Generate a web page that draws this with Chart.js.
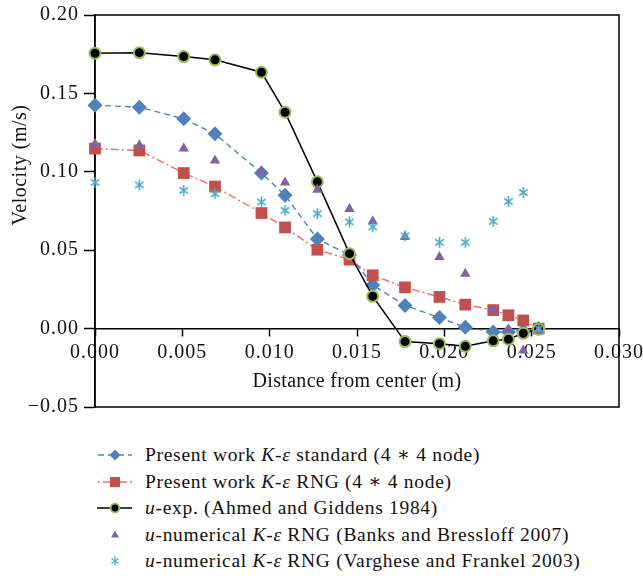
<!DOCTYPE html>
<html>
<head>
<meta charset="utf-8">
<script src="https://cdn.jsdelivr.net/npm/chart.js@4.4.1/dist/chart.umd.min.js"></script>
<style>
  html, body { margin: 0; padding: 0; background: #fff; }
  #wrap { position: relative; width: 643px; height: 576px; overflow: hidden; }
  #c { position: absolute; left: 0; top: 0; }
  .row { position: absolute; left: 0; height: 26px; width: 643px; font-family: "Liberation Serif", "DejaVu Serif", serif; font-size: 19.5px; letter-spacing: 0.7px; color: #111; white-space: nowrap; }
  .row svg { position: absolute; left: 95px; top: 0; }
  .row span { position: absolute; left: 145px; top: 0; line-height: 26px; }
</style>
</head>
<body>
<div id="wrap">
  <canvas id="c" width="643" height="430"></canvas>
  <div id="legend"></div>
</div>
<script>
// ---- data ----
const distance = [0, 0.00254, 0.00508, 0.00687, 0.00953, 0.01088, 0.01273, 0.01457, 0.0159, 0.01775, 0.01972, 0.0212, 0.0228, 0.02367, 0.02452, 0.0254];
const kepsStandard = [0.1425, 0.1412, 0.1338, 0.1242, 0.0992, 0.0850, 0.0571, 0.0470, 0.0278, 0.0148, 0.0070, 0.0008, -0.0021, -0.0022, -0.0015, 0.0];
const kepsRNG = [0.1148, 0.1136, 0.0992, 0.0906, 0.0737, 0.0645, 0.0503, 0.0440, 0.0340, 0.0263, 0.0202, 0.0153, 0.0118, 0.0085, 0.0052, 0.0];
const uExpAhmed = [0.1756, 0.1760, 0.1735, 0.1714, 0.1635, 0.1380, 0.0936, 0.0478, 0.0206, -0.0083, -0.0096, -0.0113, -0.0078, -0.0068, -0.0030, -0.0004];
const uNumBanks = [0.1178, 0.1170, 0.1148, 0.1072, 0.1002, 0.0932, 0.0885, 0.0762, 0.0684, 0.0584, 0.0457, 0.0350, 0.0118, -0.0006, -0.0140, -0.0010];
const uNumVarghese = [0.0932, 0.0917, 0.0881, 0.0860, 0.0807, 0.0754, 0.0733, 0.0680, 0.0648, 0.0592, 0.0550, 0.0550, 0.0684, 0.0811, 0.0868, 0.0];
const seriesLabels = [
  'Present work <i>K</i>-<i>ε</i> standard (4 ∗ 4 node)',
  'Present work <i>K</i>-<i>ε</i> RNG (4 ∗ 4 node)',
  '<i>u</i>-exp. (Ahmed and Giddens 1984)',
  '<i>u</i>-numerical <i>K</i>-<i>ε</i> RNG (Banks and Bressloff 2007)',
  '<i>u</i>-numerical <i>K</i>-<i>ε</i> RNG (Varghese and Frankel 2003)'
];
const xTickValues = [0, 0.005, 0.010, 0.015, 0.020, 0.025, 0.030];
const yTickValues = [-0.05, 0.00, 0.05, 0.10, 0.15, 0.20];
const xTitle = 'Distance from center (m)';
const yTitle = 'Velocity (m/s)';

const FONT = '"Liberation Serif", "DejaVu Serif", serif';
const C = {
  blue: '#4F81BD', blueLine: '#4F81BD',
  red: '#C0504D', redLine: '#F46A6A',
  olive: '#9BBB59', purple: '#8064A2', cyan: '#4BACC6'
};

function pts(ys) { return distance.map((x, i) => ({x: x, y: ys[i]})); }
function plain(s) { return s.replace(/<[^>]+>/g, ''); }

// asterisk marker (vertical + X) like the reference
function starCanvas(size, color, lw) {
  const cv = document.createElement('canvas');
  cv.width = size; cv.height = size;
  const g = cv.getContext('2d');
  const c = size / 2, r = size / 2 - 1;
  g.strokeStyle = color; g.lineWidth = lw; g.lineCap = 'butt';
  g.beginPath();
  g.moveTo(c, c - r); g.lineTo(c, c + r);
  const d = r * 0.78;
  g.moveTo(c - d, c - d * 0.75); g.lineTo(c + d, c + d * 0.75);
  g.moveTo(c + d, c - d * 0.75); g.lineTo(c - d, c + d * 0.75);
  g.stroke();
  return cv;
}
const starImg = starCanvas(13, C.cyan, 1.6);

const datasets = [
  { label: plain(seriesLabels[0]), data: pts(kepsStandard), order: 5,
    borderColor: C.blueLine, borderWidth: 1.4, borderDash: [6, 4],
    pointStyle: 'rectRot', pointRadius: 7.5, pointBackgroundColor: C.blue, pointBorderColor: C.blue, pointBorderWidth: 0,
    showLine: true, tension: 0, clip: false },
  { label: plain(seriesLabels[1]), data: pts(kepsRNG), order: 4,
    borderColor: C.redLine, borderWidth: 1.4, borderDash: [8, 3, 2, 3],
    pointStyle: 'rect', pointRadius: 8.3, pointBackgroundColor: C.red, pointBorderColor: C.red, pointBorderWidth: 0,
    showLine: true, tension: 0, clip: false },
  { label: plain(seriesLabels[2]), data: pts(uExpAhmed), order: 3,
    borderColor: '#000', borderWidth: 1.5,
    pointStyle: 'circle', pointRadius: 5.5, pointBackgroundColor: '#000', pointBorderColor: C.olive, pointBorderWidth: 2,
    showLine: true, tension: 0, clip: false },
  { label: plain(seriesLabels[3]), data: pts(uNumBanks), order: 2,
    showLine: false,
    pointStyle: 'triangle', pointRadius: 6, pointBackgroundColor: C.purple, pointBorderColor: C.purple, pointBorderWidth: 0,
    clip: false },
  { label: plain(seriesLabels[4]), data: pts(uNumVarghese), order: 1,
    showLine: false,
    pointStyle: starImg, pointRadius: 6, pointBackgroundColor: C.cyan, pointBorderColor: C.cyan,
    clip: false }
];

const boxPlugin = {
  id: 'box',
  beforeDraw(chart) {
    chart.ctx.letterSpacing = '1px';
  },
  beforeDatasetsDraw(chart) {
    const {ctx, chartArea: a} = chart;
    ctx.save();
    ctx.strokeStyle = '#000'; ctx.lineWidth = 1.5;
    ctx.strokeRect(a.left, a.top, a.right - a.left, a.bottom - a.top);
    ctx.restore();
  },
  afterDraw(chart) {
    const {ctx, chartArea: a} = chart;
    ctx.save();
    ctx.font = '20px ' + FONT;
    ctx.fillStyle = '#111';
    ctx.textAlign = 'center'; ctx.textBaseline = 'middle';
    ctx.letterSpacing = '0.3px';
    ctx.fillText(xTitle, (a.left + a.right) / 2, 382);
    ctx.translate(21, 165);
    ctx.rotate(-Math.PI / 2);
    ctx.letterSpacing = '0.5px';
    ctx.fillText(yTitle, 0, 0);
    ctx.restore();
  }
};

new Chart(document.getElementById('c'), {
  type: 'scatter',
  data: { datasets },
  options: {
    responsive: false, animation: false,
    layout: { padding: { top: 15, right: 24, bottom: 23, left: 0 } },
    plugins: { legend: { display: false }, tooltip: { enabled: false } },
    scales: {
      x: {
        type: 'linear', position: { y: 0 }, min: 0, max: 0.03,
        afterBuildTicks(s) { s.ticks = xTickValues.map(v => ({value: v})); },
        afterFit(s) { s.paddingLeft = 0; s.paddingRight = 0; },
        ticks: { callback: v => v.toFixed(3), font: { family: FONT, size: 20 }, color: '#111', padding: 5, maxRotation: 0, autoSkip: false },
        grid: { drawOnChartArea: false, drawTicks: true, tickLength: 7, tickColor: '#000', tickWidth: 1.5 },
        border: { display: true, color: '#000', width: 1.5 },
        title: { display: false }
      },
      y: {
        type: 'linear', position: 'left', min: -0.05, max: 0.2,
        afterBuildTicks(s) { s.ticks = yTickValues.map(v => ({value: v})); },
        afterFit(s) { s.width = 95; s.paddingTop = 0; s.paddingBottom = 0; },
        ticks: { callback: v => (v < 0 ? '\u2212' : '') + Math.abs(v).toFixed(2), font: { family: FONT, size: 20 }, color: '#111', padding: 5 },
        grid: { drawOnChartArea: false, drawTicks: true, tickLength: 11, tickColor: '#000', tickWidth: 1.5 },
        border: { display: true, color: '#000', width: 1.5 }
      }
    }
  },
  plugins: [boxPlugin]
});

// ---- HTML legend ----
const legendMarks = [
  '<line x1="2" y1="13" x2="37" y2="13" stroke="#4F81BD" stroke-width="1.5" stroke-dasharray="6 4" stroke-dashoffset="-1"/><polygon points="20,7.5 25.5,13 20,18.5 14.5,13" fill="#4F81BD"/>',
  '<line x1="2" y1="13" x2="37" y2="13" stroke="#F46A6A" stroke-width="1.5" stroke-dasharray="8 3 2 3" stroke-dashoffset="-6"/><rect x="15" y="8" width="10" height="10" fill="#C0504D"/>',
  '<line x1="2" y1="13" x2="37" y2="13" stroke="#000" stroke-width="1.5"/><circle cx="20" cy="13" r="4.3" fill="#000" stroke="#9BBB59" stroke-width="1.8"/>',
  '<polygon points="20,8.5 24,15.5 16,15.5" fill="#8064A2"/>',
  '<g stroke="#4BACC6" stroke-width="1.3"><line x1="20" y1="8.5" x2="20" y2="17.5"/><line x1="16.5" y1="10.5" x2="23.5" y2="15.5"/><line x1="23.5" y1="10.5" x2="16.5" y2="15.5"/></g>'
];
const legendTops = [442, 468.5, 495, 521.5, 548];
const lg = document.getElementById('legend');
seriesLabels.forEach((lab, i) => {
  const row = document.createElement('div');
  row.className = 'row';
  row.style.top = legendTops[i] + 'px';
  row.innerHTML = '<svg width="40" height="26" viewBox="0 0 40 26">' + legendMarks[i] + '</svg><span>' + lab + '</span>';
  lg.appendChild(row);
});
</script>
</body>
</html>
